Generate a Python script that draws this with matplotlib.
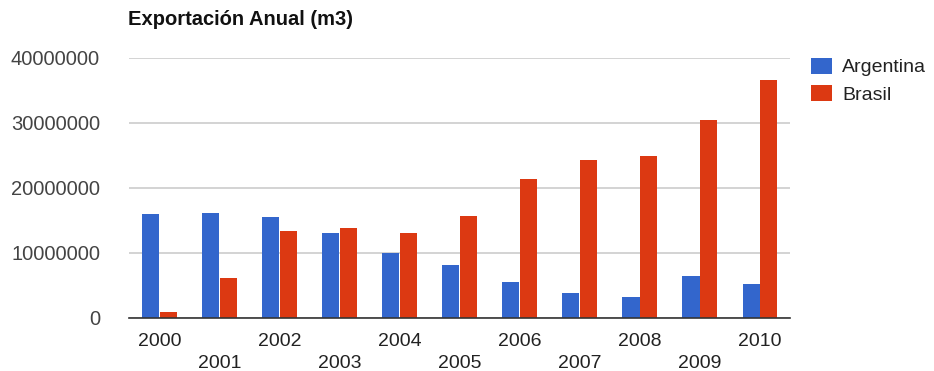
import matplotlib
matplotlib.use('Agg')
import matplotlib.pyplot as plt
import numpy as np

plt.rcParams['font.family'] = ['Liberation Sans', 'DejaVu Sans']

# datos
years = ['2000', '2001', '2002', '2003', '2004', '2005',
         '2006', '2007', '2008', '2009', '2010']
argentina = [15900000, 16050000, 15450000, 13000000, 10000000, 8150000,
             5450000, 3850000, 3200000, 6350000, 5250000]
brasil = [950000, 6150000, 13400000, 13850000, 13100000, 15600000,
          21300000, 24200000, 24900000, 30400000, 36500000]

fig = plt.figure(figsize=(9.34, 3.71), dpi=100)
ax = fig.add_axes([0.1384, 0.1437, 0.8458 - 0.1384, 0.8445 - 0.1437])

x = np.arange(len(years))
w = 0.285
ax.bar(x - w / 2 - 0.005, argentina, w, color='#3366CC', label='Argentina', zorder=3)
ax.bar(x + w / 2 + 0.005, brasil, w, color='#DC3912', label='Brasil', zorder=3)

ax.set_xlim(-0.5, len(years) - 0.5)
ax.set_ylim(0, 40000000)
ax.set_yticks([0, 10000000, 20000000, 30000000, 40000000])
ax.set_yticklabels(['0', '10000000', '20000000', '30000000', '40000000'])
ax.yaxis.grid(True, color='#cccccc', linewidth=1.2, zorder=0)
ax.set_axisbelow(True)

# etiquetas alternadas
labels = [y if i % 2 == 0 else '\n' + y for i, y in enumerate(years)]
ax.set_xticks(x)
ax.set_xticklabels(labels, linespacing=1.4)

ax.tick_params(axis='x', length=0, pad=11, labelsize=14, labelcolor='#222222')
ax.tick_params(axis='y', length=0, pad=21, labelsize=14.5, labelcolor='#444444')

for s in ['top', 'right', 'left']:
    ax.spines[s].set_visible(False)
ax.spines['bottom'].set_color('#333333')
ax.spines['bottom'].set_linewidth(1.2)
ax.spines['bottom'].set_zorder(4)

fig.text(0.137, 0.947, 'Exportación Anual (m3)', fontsize=14.5, fontweight='bold',
         color='#111111', ha='left', va='center')

ax.legend(loc='upper left', bbox_to_anchor=(1.02, 1.03), frameon=False,
          fontsize=14, handlelength=1.1, handleheight=0.9, handletextpad=0.5,
          labelspacing=0.45, borderaxespad=0, labelcolor='#222222')

fig.savefig('out.png', dpi=100)
